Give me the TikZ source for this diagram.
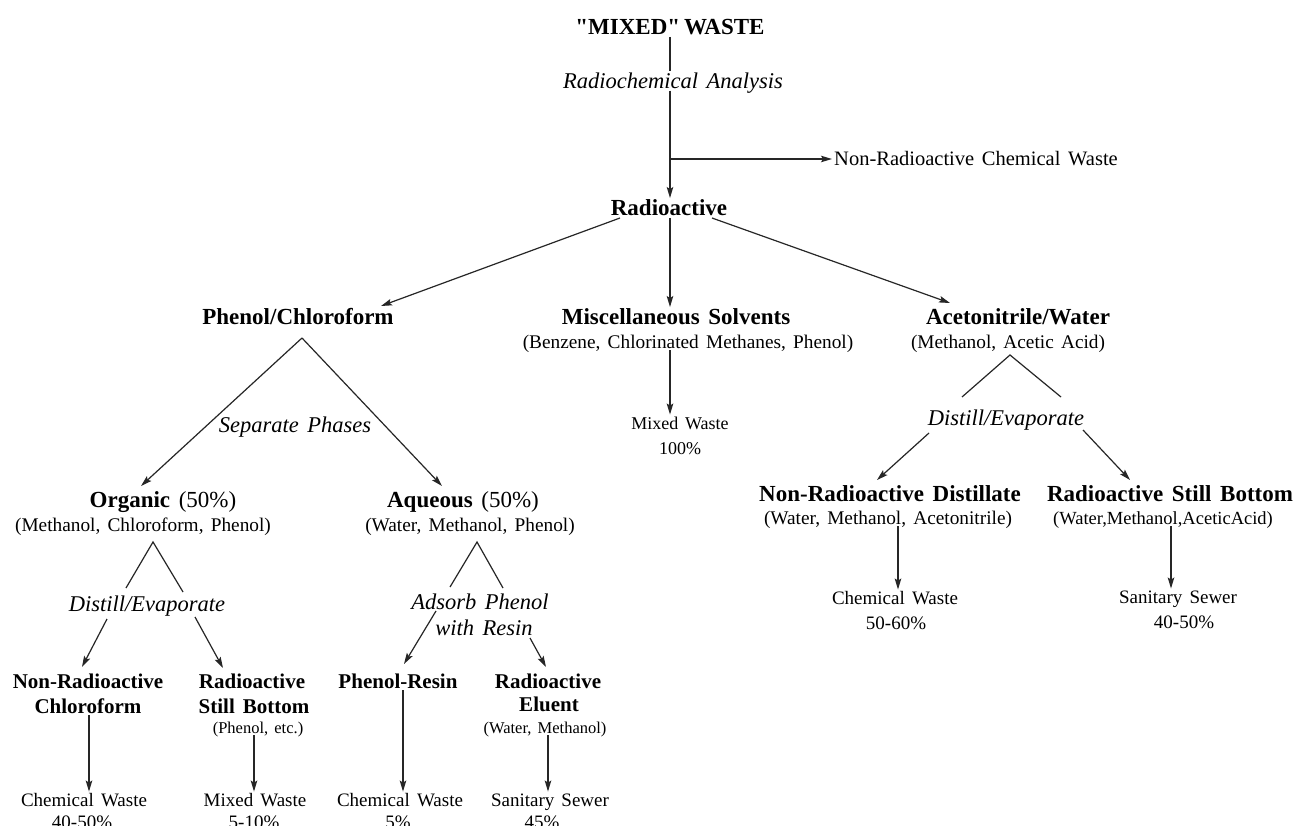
\documentclass[tikz,border=0pt]{standalone}
\usepackage{fontspec}
\setmainfont{Liberation Serif}
\newfontfamily\subfont[WordSpace=1.7]{Liberation Serif}
\newfontfamily\headfont[WordSpace=1.5]{Liberation Serif}
\usetikzlibrary{arrows.meta}
\begin{document}
\begin{tikzpicture}[x=1pt,y=-1pt,
  every node/.style={inner sep=2pt, align=center},
  hd/.style={font=\headfont\fontsize{23}{25}\selectfont\bfseries, text height=15.5pt, text depth=0pt},
  hds/.style={font=\headfont\fontsize{21}{24}\selectfont\bfseries, text height=14pt, text depth=0pt},
  proc/.style={font=\headfont\fontsize{22.5}{25}\selectfont\itshape, text height=15pt, text depth=0pt},
  sub/.style={font=\subfont\fontsize{19.3}{21}\selectfont, text height=12.5pt, text depth=0pt},
  lab/.style={font=\subfont\fontsize{19}{21}\selectfont, text height=12.5pt, text depth=0pt},
  ln/.style={line width=1.2pt, black!85},
  arr/.style={ln, -{Stealth[length=11pt,width=6.5pt,inset=2pt]}},
]
\fill[white] (0,0) rectangle (1299,826);
\useasboundingbox (0,0) rectangle (1299,826);

% ---- top
\node[hd] (mixed) at (670,27) {"MIXED"\,WASTE};
\node[proc] (radiochem) at (673,81) {Radiochemical Analysis};
\node[lab, font=\subfont\fontsize{20.5}{22}\selectfont, anchor=west] (nrcw) at (832,159) {Non-Radioactive Chemical Waste};
\node[hd] (radioactive) at (669,208) {Radioactive};

% ---- second row
\node[hd] (phenolchl) at (298,317) {Phenol/Chloroform};
\node[hd] (misc) at (676,317) {Miscellaneous Solvents};
\node[sub] (miscsub) at (688,342) {(Benzene, Chlorinated Methanes, Phenol)};
\node[hd] (aceto) at (1018,317) {Acetonitrile/Water};
\node[sub] (acetosub) at (1008,342) {(Methanol, Acetic Acid)};

\node[proc] (sepph) at (295,425) {Separate Phases};
\node[lab, font=\subfont\fontsize{18}{20}\selectfont] (mixedw) at (680,423) {Mixed Waste};
\node[lab, font=\subfont\fontsize{18}{20}\selectfont] (p100) at (680,448) {100\%};
\node[proc] (distR) at (1006,418) {Distill/Evaporate};

% ---- third row
\node[hd] (organic) at (163,500) {Organic {\mdseries(50\%)}};
\node[sub] (orgsub) at (143,525) {(Methanol, Chloroform, Phenol)};
\node[hd] (aqueous) at (463,500) {Aqueous {\mdseries(50\%)}};
\node[sub] (aqsub) at (470,525) {(Water, Methanol, Phenol)};
\node[hd] (nrd) at (890,494) {Non-Radioactive Distillate};
\node[sub] (nrdsub) at (888,518) {(Water, Methanol, Acetonitrile)};
\node[hd] (rsb) at (1170,494) {Radioactive Still Bottom};
\node[sub, font=\fontsize{18.5}{20}\selectfont] (rsbsub) at (1163,518) {(Water,Methanol,AceticAcid)};

\node[proc] (distL) at (147,604) {Distill/Evaporate};
\node[proc] (adsorb) at (480,602) {Adsorb Phenol};
\node[proc] (withresin) at (484,628) {with Resin};

\node[lab] (cwR) at (895,598) {Chemical Waste};
\node[lab] (p5060) at (896,623) {50-60\%};
\node[lab] (ssR) at (1178,597) {Sanitary Sewer};
\node[lab] (p4050R) at (1184,622) {40-50\%};

% ---- fourth row
\node[hds] (nonrad2) at (88,681) {Non-Radioactive};
\node[hds] (chloro) at (88,706) {Chloroform};
\node[hds] (radio2) at (252,681) {Radioactive};
\node[hds] (stillb) at (254,706) {Still Bottom};
\node[sub, font=\subfont\fontsize{16.5}{18}\selectfont] (phetc) at (258,727) {(Phenol, etc.)};
\node[hds] (presin) at (398,681) {Phenol-Resin};
\node[hds] (radio3) at (548,681) {Radioactive};
\node[hds] (eluent) at (549,704) {Eluent};
\node[sub, font=\subfont\fontsize{16.5}{18}\selectfont] (watmeth) at (545,727) {(Water, Methanol)};

% ---- bottom
\node[lab] (cw1) at (84,800) {Chemical Waste};
\node[lab] (p4050) at (82,822) {40-50\%};
\node[lab] (mw2) at (255,800) {Mixed Waste};
\node[lab] (p510) at (254,822) {5-10\%};
\node[lab] (cw3) at (400,800) {Chemical Waste};
\node[lab] (p5) at (398,822) {5\%};
\node[lab] (ss4) at (550,800) {Sanitary Sewer};
\node[lab] (p45) at (542,822) {45\%};

% ---- coordinates
\coordinate (br) at (670,159);
\coordinate (raL) at (620,218);
\coordinate (pcTip) at (381,306);
\coordinate (raR) at (712,218);
\coordinate (acTip) at (950,303);
\coordinate (pcApex) at (302,338);
\coordinate (orgTip) at (141,486);
\coordinate (aqTip) at (442,486);
\coordinate (acApex) at (1010,355);
\coordinate (acL1) at (962,397);
\coordinate (acR1) at (1061,397);
\coordinate (acL2) at (929,433);
\coordinate (acR2) at (1083,430);
\coordinate (nrdTip) at (877,480);
\coordinate (rsbTip) at (1130,480);
\coordinate (orApex) at (153,542);
\coordinate (orL1) at (126,588);
\coordinate (orR1) at (183,592);
\coordinate (orL2) at (107,619);
\coordinate (orR2) at (195,617);
\coordinate (nrTip) at (82,667);
\coordinate (rsTip) at (223,668);
\coordinate (aqApex) at (477,542);
\coordinate (aqL1) at (450,587);
\coordinate (aqR1) at (503,588);
\coordinate (aqL2) at (436,611);
\coordinate (aqR2) at (530,638);
\coordinate (prTip) at (404,664);
\coordinate (elTip) at (546,667);

% ---- connectors
\draw[ln] (mixed.south) -- (mixed.south |- radiochem.north);
\draw[arr] (mixed.south |- radiochem.south) -- (mixed.south |- radioactive.north);
\draw[arr] (br) -- (nrcw.west);
\draw[arr] (raL) -- (pcTip);
\draw[arr] (radioactive.south -| mixed.south) -- (mixed.south |- misc.north);
\draw[arr] (raR) -- (acTip);

\draw[arr] (pcApex) -- (orgTip);
\draw[arr] (pcApex) -- (aqTip);

\draw[arr] (mixed.south |- miscsub.south) -- (mixed.south |- mixedw.north);

\draw[ln] (acL1) -- (acApex) -- (acR1);
\draw[arr] (acL2) -- (nrdTip);
\draw[arr] (acR2) -- (rsbTip);
\draw[arr] (nrdsub.south -| 898,0) -- (cwR.north -| 898,0);
\draw[arr] (rsbsub.south -| 1171,0) -- (ssR.north -| 1171,0);

\draw[ln] (orL1) -- (orApex) -- (orR1);
\draw[arr] (orL2) -- (nrTip);
\draw[arr] (orR2) -- (rsTip);

\draw[ln] (aqL1) -- (aqApex) -- (aqR1);
\draw[arr] (aqL2) -- (prTip);
\draw[arr] (aqR2) -- (elTip);

\draw[arr] (chloro.south -| 89,0) -- (cw1.north -| 89,0);
\draw[arr] (phetc.south -| stillb) -- (stillb |- mw2.north);
\draw[arr] (presin.south -| 403,0) -- (cw3.north -| 403,0);
\draw[arr] (watmeth.south -| radio3) -- (radio3 |- ss4.north);
\end{tikzpicture}
\end{document}
